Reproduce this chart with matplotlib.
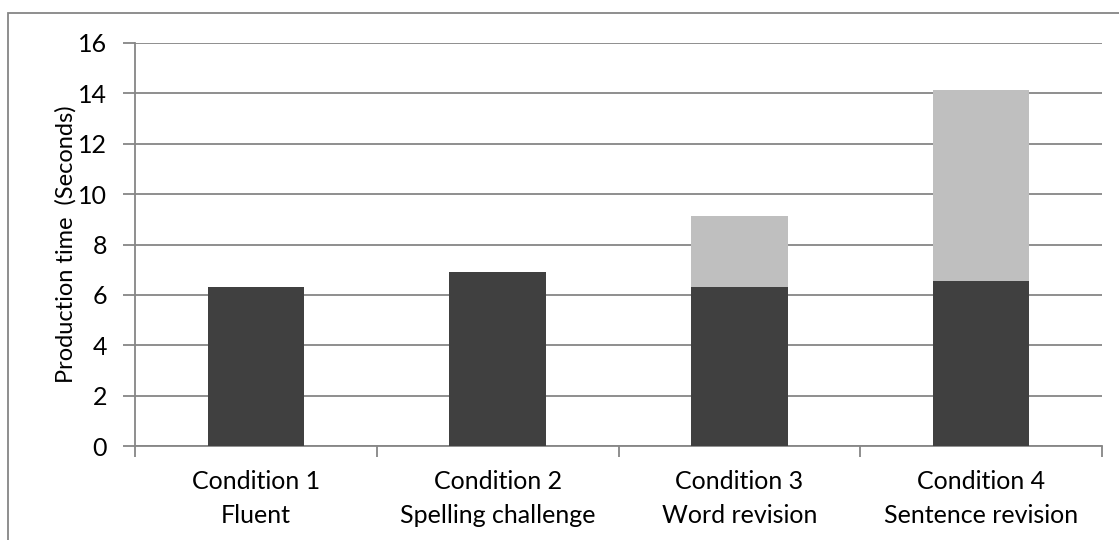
import numpy as np
import matplotlib.pyplot as plt
from matplotlib.patches import Rectangle

plt.rcParams['font.family'] = ['Lato', 'DejaVu Sans']

categories = ['Condition 1\nFluent', 'Condition 2\nSpelling challenge',
              'Condition 3\nWord revision', 'Condition 4\nSentence revision']
base = [6.3, 6.9, 6.3, 6.55]
extra = [0, 0, 2.85, 7.6]
yticks = [0, 2, 4, 6, 8, 10, 12, 14, 16]

W, H = 1119, 540
fig = plt.figure(figsize=(W / 100, H / 100), dpi=100)
ax = fig.add_axes([135 / W, 1 - 446 / H, (1102 - 135) / W, (446 - 43) / H])

# outer chart border
fig.patches.append(Rectangle((8 / W, -0.1), 1.2, 1 - 13 / H + 0.1,
                             transform=fig.transFigure, fill=False,
                             edgecolor='#868686', linewidth=1.3))

x = np.arange(len(categories))
ax.bar(x, base, width=0.4, color='#404040', zorder=3)
ax.bar(x, extra, width=0.4, bottom=base, color='#bfbfbf', zorder=3)

ax.set_xlim(-0.5, 3.5)
ax.set_ylim(0, 16)
ax.set_yticks(yticks)
ax.grid(axis='y', color='#868686', linewidth=1.3, zorder=0)
ax.set_xticks(x)
ax.set_xticklabels(categories, fontsize=18, linespacing=1.6)
ax.set_xticks(np.arange(-0.5, 4, 1), minor=True)
ax.tick_params(axis='x', which='major', length=0, pad=17)
ax.tick_params(axis='x', which='minor', length=8, color='#868686', width=1.3)
ax.tick_params(axis='y', length=9, color='#868686', width=1.3, labelsize=18, pad=11)
for s in ['top', 'right']:
    ax.spines[s].set_visible(False)
for s in ['left', 'bottom']:
    ax.spines[s].set_color('#868686')
    ax.spines[s].set_linewidth(1.3)
ax.set_ylabel('Production time  (Seconds)', fontsize=17, labelpad=1)

fig.savefig('out.png', dpi=100)
